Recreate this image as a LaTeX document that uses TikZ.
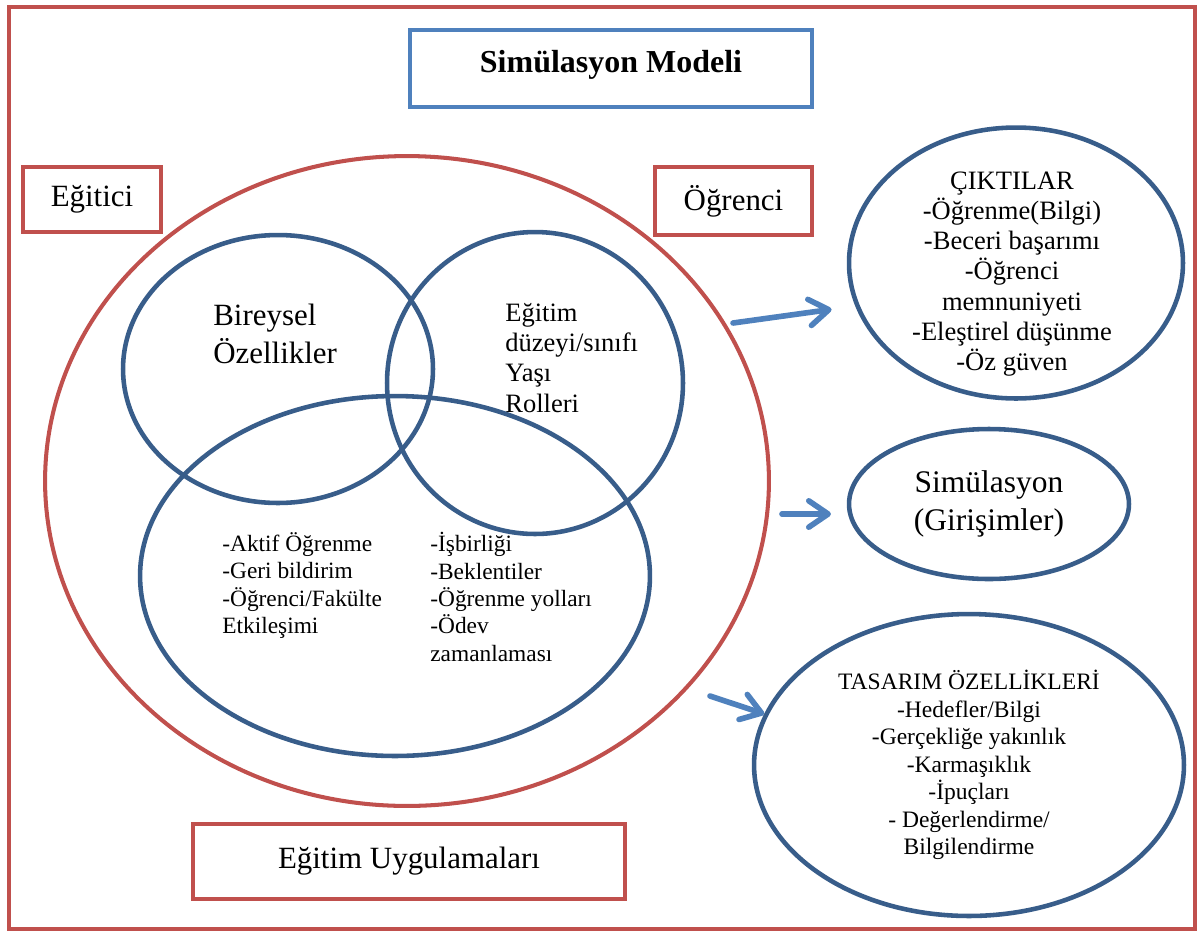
\documentclass[tikz,border=0pt]{standalone}
\usepackage{fontspec}
\setmainfont{Liberation Serif}
\usetikzlibrary{shapes.geometric, arrows.meta}
\definecolor{kirmizi}{HTML}{C0504D}
\definecolor{lacivert}{HTML}{385D8A}
\definecolor{mavi}{HTML}{4F81BD}

\begin{document}
\begin{tikzpicture}[x=0.02cm, y=-0.02cm,
  kutu/.style={rectangle, draw=kirmizi, line width=2.4pt, inner sep=0pt, font=\fontsize{17.6pt}{21pt}\selectfont},
  halka/.style={ellipse, draw=lacivert, line width=2.6pt, inner sep=0pt},
  liste/.style={align=left, inner sep=0pt, anchor=north west},
  ok/.style={draw=mavi, line width=3.2pt, line cap=round, -{Straight Barb[length=11pt, width=15pt, round]}}]
  \useasboundingbox (0,0) rectangle (1197,931);
  \draw[kirmizi, line width=2.3pt] (9,7) rectangle (1195,929);

  \node[rectangle, draw=mavi, line width=2.3pt, minimum width=8.04cm, minimum height=1.54cm, text depth=8.5pt, font=\bfseries\fontsize{18.2pt}{22pt}\selectfont] (baslik) at (611,68.5) {Simülasyon Modeli};
  \node[kutu, minimum width=2.76cm, minimum height=1.3cm] (egitici) at (92,199.5) {Eğitici};
  \node[kutu, minimum width=3.14cm, minimum height=1.36cm] (ogrenci) at (733.5,201) {Öğrenci};
  \node[kutu, minimum width=8.64cm, minimum height=1.5cm] (uygulama) at (409,861.5) {Eğitim Uygulamaları};

  \node[halka, draw=kirmizi, line width=2.3pt, minimum width=14.48cm, minimum height=13cm] (genel) at (407,481) {};
  \node[halka, minimum width=6.2cm, minimum height=5.36cm] (bireyhalka) at (278,369) {};
  \node[halka, minimum width=5.92cm, minimum height=6.04cm] (ogrencihalka) at (535,383) {};
  \node[halka, minimum width=10.2cm, minimum height=7.2cm] (uygulamahalka) at (395,576) {};

  \node[liste, font=\fontsize{17.6pt}{21.6pt}\selectfont] (bireysel) at (213,304) {Bireysel\\Özellikler};
  \node[liste, font=\fontsize{15.1pt}{17.2pt}\selectfont] (duzey) at (505,303) {Eğitim\\düzeyi/sınıfı\\Yaşı\\Rolleri};
  \node[liste, font=\fontsize{13.3pt}{15.6pt}\selectfont] (aktif) at (222,532) {-Aktif Öğrenme\\-Geri bildirim\\-Öğrenci/Fakülte\\Etkileşimi};
  \node[liste, font=\fontsize{13.3pt}{15.6pt}\selectfont] (isbirligi) at (430,532) {-İşbirliği\\-Beklentiler\\-Öğrenme yolları\\-Ödev\\zamanlaması};

  \node[halka, minimum width=6.68cm, minimum height=5.42cm] (ciktilar) at (1016,263) {};
  \node[align=center, inner sep=0pt, font=\fontsize{15.1pt}{17.2pt}\selectfont] (ciktilarmetin) at (1012,274) {ÇIKTILAR\\-Öğrenme(Bilgi)\\-Beceri başarımı\\-Öğrenci\\memnuniyeti\\-Eleştirel düşünme\\-Öz güven};
  \node[halka, minimum width=5.6cm, minimum height=3cm, align=center, font=\fontsize{17.9pt}{21.6pt}\selectfont] (simulasyon) at (989,504) {Simülasyon\\(Girişimler)};
  \node[halka, minimum width=8.6cm, minimum height=6.04cm, align=center, font=\fontsize{13.4pt}{15.65pt}\selectfont] (tasarim) at (969,765) {TASARIM ÖZELLİKLERİ\\-Hedefler/Bilgi\\-Gerçekliğe yakınlık\\-Karmaşıklık\\-İpuçları\\- Değerlendirme/\\Bilgilendirme};

  \coordinate (ok1) at (733,323);
  \coordinate (ok2) at (782,514);
  \coordinate (ok3) at (710,696);
  \draw[ok, shorten >=13.6pt] (ok1) -- (ciktilar.195.7);
  \draw[ok, shorten >=9pt] (ok2) -- (ok2 -| simulasyon.west);
  \draw[ok] (ok3) -- (tasarim.166.4);
\end{tikzpicture}
\end{document}
